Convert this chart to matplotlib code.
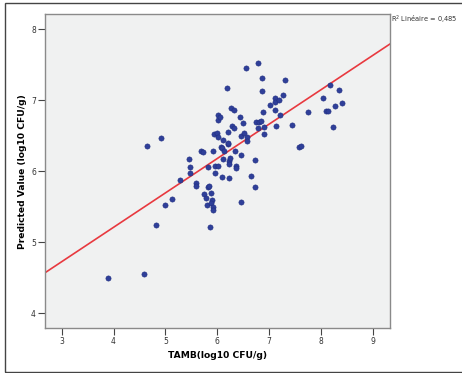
import numpy as np
import matplotlib
matplotlib.use("Agg")
import matplotlib.pyplot as plt
from matplotlib.patches import Rectangle

# TAMB (log10 CFU/g) vs predicted value
tamb = [3.90, 4.59, 4.81, 4.65, 4.92, 5.00, 5.135, 5.29, 5.45, 5.48,
        5.48, 5.60, 5.60, 5.69, 5.73, 5.75, 5.78, 5.81, 5.82, 5.85,
        5.82, 5.86, 5.89, 5.90, 5.89, 5.91, 5.91, 5.91, 5.93, 5.96,
        5.96, 5.99, 6.01, 6.02, 6.05, 6.02, 6.02, 6.07, 6.10, 6.11,
        6.11, 6.10, 6.13, 6.19, 6.20, 6.21, 6.21, 6.22, 6.23, 6.25,
        6.26, 6.23, 6.29, 6.33, 6.33, 6.34, 6.37, 6.37, 6.44, 6.45,
        6.45, 6.45, 6.49, 6.51, 6.55, 6.58, 6.58, 6.66, 6.72, 6.73,
        6.75, 6.78, 6.79, 6.81, 6.84, 6.87, 6.87, 6.89, 6.91, 6.91,
        7.01, 7.11, 7.12, 7.12, 7.14, 7.19, 7.22, 7.27, 7.31, 7.45,
        7.57, 7.62, 7.75, 8.04, 8.10, 8.13, 8.18, 8.24, 8.27, 8.35,
        8.40]
predicted = [4.50, 4.55, 5.24, 6.36, 6.47, 5.52, 5.61, 5.88, 6.18, 6.06,
             5.97, 5.84, 5.79, 6.28, 6.27, 5.68, 5.62, 5.53, 5.78, 5.80,
             6.06, 5.22, 5.69, 5.59, 5.55, 5.50, 5.45, 6.29, 6.53, 6.07,
             5.98, 6.54, 6.79, 6.73, 6.76, 6.49, 6.08, 6.34, 6.33, 6.44,
             6.17, 5.92, 6.28, 7.17, 6.38, 6.40, 6.56, 6.14, 6.11, 6.19,
             6.89, 5.90, 6.64, 6.61, 6.87, 6.29, 6.08, 6.05, 6.77, 6.50,
             6.23, 5.57, 6.68, 6.54, 7.46, 6.48, 6.43, 5.94, 6.16, 5.78,
             6.69, 7.53, 6.61, 6.70, 6.71, 7.31, 7.13, 6.84, 6.62, 6.52,
             6.94, 7.03, 6.97, 6.87, 6.64, 7.00, 6.79, 7.08, 7.29, 6.65,
             6.34, 6.36, 6.84, 7.04, 6.85, 6.85, 7.21, 6.63, 6.92, 7.14,
             6.96]

# linear fit as drawn in the picture
fit_slope = 0.484
fit_intercept = 3.276
r2_text = "R$^2$ Linéaire = 0,485"

x_ticks = [3, 4, 5, 6, 7, 8, 9]
y_ticks = [4, 5, 6, 7, 8]

fig = plt.figure(figsize=(4.62, 3.73), dpi=100)
ax = fig.add_axes([0.0974, 0.1198, 0.7474, 0.8427])
ax.set_facecolor("#f0f1f1")

xlim = (2.678, 9.34)
ax.set_xlim(xlim)
ax.set_ylim(3.79, 8.216)

xs = np.array(xlim)
ax.plot(xs, fit_intercept + fit_slope * xs, color="#e8393f", lw=1.2, zorder=2)
ax.scatter(tamb, predicted, s=14, color="#2f3f99", edgecolors="#1f2d80",
           linewidths=0.4, zorder=3)

ax.set_xticks(x_ticks)
ax.set_yticks(y_ticks)
ax.tick_params(axis="both", labelsize=5.5, labelcolor="#333333",
               color="#444444", length=5, width=0.8, direction="out", pad=1.5)

for sp in ax.spines.values():
    sp.set_color("#8a8a8a")
    sp.set_linewidth(1.0)

fig.text(217 / 462, 1 - 356 / 373, "TAMB(log10 CFU/g)", fontsize=6.6,
         fontweight="bold", ha="center", va="center")
fig.text(22.5 / 462, 1 - 172 / 373, "Predicted Value (log10 CFU/g)",
         fontsize=6.6, fontweight="bold", rotation=90, ha="center", va="center")

fig.text(391 / 462, 1 - 20 / 373, r2_text, fontsize=4.8, color="#333333",
         ha="left", va="center")

# outer frame
fig.patches.append(Rectangle((5 / 462, 1 / 373), 460 / 462, 369 / 373,
                             transform=fig.transFigure, fill=False,
                             edgecolor="#444444", linewidth=1.0))

fig.savefig("out.png", dpi=100)
